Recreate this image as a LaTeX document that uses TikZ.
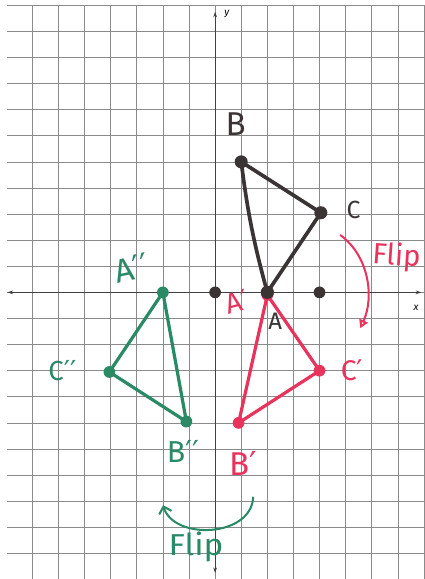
\documentclass[tikz,border=0pt]{standalone}
\usepackage{fontspec}
\setmainfont{Fira Sans}
\newfontfamily\djfont{DejaVu Sans}
\usetikzlibrary{arrows.meta}
\definecolor{ink}{HTML}{3A3434}
\definecolor{pen}{HTML}{E8335C}
\definecolor{grn}{HTML}{2A8A66}
\definecolor{gridc}{HTML}{8A8A8A}
\newcommand{\pr}{{\djfont ′}}
\newcommand{\fs}[1]{\fontsize{#1}{#1}\selectfont}
\tikzset{
  gridline/.style={gridc, line width=0.7pt},
  axisline/.style={black!75, line width=0.9pt},
  tri/.style={line width=4pt, line join=round, line cap=round},
  dotb/.style={circle, fill=ink, inner sep=0pt, minimum size=0.5cm},
  dotr/.style={circle, fill=pen, inner sep=0pt, minimum size=0.45cm},
  dotg/.style={circle, fill=grn, inner sep=0pt, minimum size=0.45cm},
  lab/.style={inner sep=0pt},
}
\begin{document}
\begin{tikzpicture}
\useasboundingbox[fill=white] (-8.24,-10.98) rectangle (8.01,11.2);
% grid
\foreach \y in {-10,...,11} \draw[gridline] (-7.96,\y) -- (8.01,\y);
\foreach \x in {-7,...,8} \draw[gridline] (\x,11) -- (\x,-10.98);
% axes
\coordinate (xl) at (-7.95,0);
\coordinate (xr) at (7.9,0);
\coordinate (yt) at (0,10.75);
\coordinate (yb) at (0,-10.75);
\draw[axisline, {Stealth[length=6pt,width=4pt]}-{Stealth[length=6pt,width=4pt]}] (xl) -- (xr);
\draw[axisline, {Stealth[length=6pt,width=4pt]}-{Stealth[length=6pt,width=4pt]}] (yb) -- (yt);
\node[font=\itshape\fs{11}] (xlab) at (7.7,-0.6) {x};
\node[font=\itshape\fs{11}] (ylab) at (0.45,10.65) {y};
% original triangle
\node[dotb] (A) at (2,0) {};
\node[dotb] (B) at (1,5) {};
\node[dotb] (C) at (4.05,3.05) {};
\node[dotb, minimum size=0.45cm] (O) at (0,0) {};
\node[dotb, minimum size=0.45cm] (P) at (4,0) {};
\draw[tri, ink] (A.center) to[bend left=4] (B.center) -- (C.center) -- (A.center);
% red triangle
\node[dotr] (A1) at (2,-0.1) {};
\node[dotr] (B1) at (0.9,-5.0) {};
\node[dotr] (C1) at (4.0,-3.0) {};
\draw[tri, pen, line width=3.5pt] (A1.center) -- (C1.center) -- (B1.center) -- (A1.center);
\node[dotb] (A0) at (2,0) {};
% green triangle
\node[dotg] (A2) at (-2,0) {};
\node[dotg] (B2) at (-1.1,-4.95) {};
\node[dotg] (C2) at (-4.05,-3.05) {};
\draw[tri, grn, line width=3.5pt] (A2.center) -- (B2.center) -- (C2.center) -- (A2.center);
% labels
\node[lab, ink, font=\fs{36}] (lB) at (0.79,6.44) {B};
\node[lab, ink, font=\fs{27}] (lC) at (5.3,3.15) {C};
\node[lab, ink, font=\fs{26}] (lA) at (2.3,-1.1) {A};
\node[lab, pen, font=\fs{31}, rotate=15] (lA1) at (0.85,-0.35) {A\pr};
\node[lab, pen, font=\fs{31}] (lC1) at (5.25,-2.97) {C\pr};
\node[lab, pen, font=\fs{36}] (lB1) at (1.07,-6.54) {B\pr};
\node[lab, grn, font=\fs{36}, rotate=12] (lA2) at (-3.2,0.93) {A\pr\pr};
\node[lab, grn, font=\fs{30}] (lC2) at (-5.85,-3.0) {C\pr\pr};
\node[lab, grn, font=\fs{33}] (lB2) at (-1.23,-6.08) {B\pr\pr};
\node[lab, pen, font=\fs{32}, rotate=-4] (f1) at (6.95,1.35) {Flip};
\node[lab, grn, font=\fs{33}, xscale=1.1] (f2) at (-0.73,-9.75) {Flip};
% flip arrows
\coordinate (r0) at (4.79,2.2);
\coordinate (r1) at (5.56,-1.37);
\draw[pen, line width=2.2pt, -{Triangle[open,length=9pt,width=10pt]}] (r0) .. controls (5.9,1.4) and (6.1,-0.2) .. (r1);
\coordinate (g0) at (1.46,-7.83);
\coordinate (g1) at (-1.99,-8.15);
\draw[grn, line width=2.2pt, -{Straight Barb[length=7pt,width=14pt]}] (g0) .. controls (1.4,-9.4) and (-1.6,-9.5) .. (g1);
\end{tikzpicture}
\end{document}
